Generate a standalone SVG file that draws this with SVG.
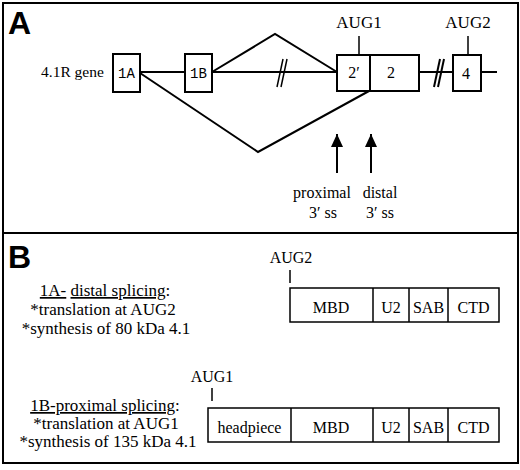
<svg xmlns="http://www.w3.org/2000/svg" width="520" height="470" viewBox="0 0 520 470">
<style>
.frame{fill:none;stroke:#000;stroke-width:2}
.box{fill:#fff;stroke:#000;stroke-width:2}
.pbox{fill:#fff;stroke:#000;stroke-width:1.5}
.ln{fill:none;stroke:#000;stroke-width:2}
.tk{fill:none;stroke:#000;stroke-width:1.5}
.t{font-family:"Liberation Serif","Times New Roman",serif;fill:#000}
.m{font-family:"Liberation Mono","Courier New",monospace;fill:#000}
.big{font-family:"Liberation Sans",Arial,sans-serif;font-weight:bold;font-size:32px;fill:#000}
</style>
<defs>
<marker id="ah" markerWidth="14" markerHeight="12" refX="13" refY="6" orient="auto" markerUnits="userSpaceOnUse" viewBox="0 0 14 12">
<path d="M0,0 L13,6 L0,12 Z" fill="#000"/>
</marker>
</defs>
<rect class="frame" x="3" y="3" width="515" height="230"/>
<rect class="frame" x="3" y="233" width="515" height="230"/>
<text class="big" x="8" y="34">A</text>
<text class="big" x="8" y="268">B</text>

<g id="connectors">
<line class="ln" x1="140" y1="72" x2="185" y2="72"/>
<line class="ln" x1="212" y1="72" x2="337" y2="72"/>
<polyline class="ln" points="212,72 275,34 337,72"/>
<polyline class="ln" points="140,73 258,152 369,91"/>
<line class="ln" x1="419" y1="72" x2="453" y2="72"/>
<line class="ln" x1="481" y1="72" x2="497" y2="72"/>
<line class="tk" x1="277" y1="87" x2="283" y2="59"/>
<line class="tk" x1="281" y1="87" x2="287" y2="59"/>
<line class="ln" x1="434" y1="87" x2="440" y2="59"/>
<line class="ln" x1="438" y1="87" x2="444" y2="59"/>
<line class="tk" x1="359" y1="36" x2="359" y2="55"/>
<line class="tk" x1="468" y1="36" x2="468" y2="55"/>
<line class="ln" x1="337" y1="173" x2="337" y2="134" marker-end="url(#ah)"/>
<line class="ln" x1="371" y1="173" x2="371" y2="134" marker-end="url(#ah)"/>
<line class="tk" x1="290" y1="270" x2="290" y2="283"/>
<line class="tk" x1="212" y1="388" x2="212" y2="401"/>
</g>

<text class="t" x="41" y="77" font-size="15.5">4.1R gene</text>

<g id="exon1A"><rect class="box" x="113" y="54" width="27" height="38"/><text class="m" x="126.5" y="78" font-size="14" text-anchor="middle">1A</text></g>
<g id="exon1B"><rect class="box" x="185" y="54" width="27" height="38"/><text class="m" x="198.5" y="78" font-size="14" text-anchor="middle">1B</text></g>
<g id="exon2p"><rect class="box" x="337" y="55" width="33" height="36"/><text class="t" x="354" y="78" font-size="16" text-anchor="middle">2′</text></g>
<g id="exon2"><rect class="box" x="370" y="55" width="49" height="36"/><text class="t" x="391" y="78" font-size="16" text-anchor="middle">2</text></g>
<g id="exon4"><rect class="box" x="453" y="55" width="28" height="36"/><text class="t" x="466" y="79" font-size="16" text-anchor="middle">4</text></g>

<text class="t" x="359" y="28" font-size="17" text-anchor="middle">AUG1</text>
<text class="t" x="468" y="28" font-size="17" text-anchor="middle">AUG2</text>

<text class="t" x="322" y="198" font-size="16" text-anchor="middle">proximal</text>
<text class="t" x="380" y="198" font-size="16" text-anchor="middle">distal</text>
<text class="t" x="323" y="218" font-size="16" text-anchor="middle">3′ ss</text>
<text class="t" x="380" y="218" font-size="16" text-anchor="middle">3′ ss</text>

<g id="text1A" class="t" font-size="17" text-anchor="middle">
<text x="105" y="296"><tspan text-decoration="underline">1A-</tspan> <tspan text-decoration="underline">distal splicing</tspan>:</text>
<text x="103" y="315">*translation at AUG2</text>
<text x="106" y="334">*synthesis of 80 kDa 4.1</text>
</g>
<g id="text1B" class="t" font-size="17" text-anchor="middle">
<text x="105" y="411"><tspan text-decoration="underline">1B-proximal splicing</tspan>:</text>
<text x="106" y="429">*translation at AUG1</text>
<text x="108" y="447">*synthesis of 135 kDa 4.1</text>
</g>

<text class="t" x="291" y="263" font-size="16" text-anchor="middle">AUG2</text>
<text class="t" x="212" y="382" font-size="16" text-anchor="middle">AUG1</text>

<g id="protein80" class="t" font-size="16" text-anchor="middle">
<rect class="pbox" x="290" y="288" width="209" height="34"/>
<line class="pbox" x1="373" y1="288" x2="373" y2="322"/>
<line class="pbox" x1="409" y1="288" x2="409" y2="322"/>
<line class="pbox" x1="448" y1="288" x2="448" y2="322"/>
<text x="331" y="313">MBD</text>
<text x="391" y="313">U2</text>
<text x="428.5" y="313">SAB</text>
<text x="473.5" y="313">CTD</text>
</g>
<g id="protein135" class="t" font-size="16" text-anchor="middle">
<rect class="pbox" x="208" y="408" width="291" height="34"/>
<line class="pbox" x1="291" y1="408" x2="291" y2="442"/>
<line class="pbox" x1="373" y1="408" x2="373" y2="442"/>
<line class="pbox" x1="409" y1="408" x2="409" y2="442"/>
<line class="pbox" x1="448" y1="408" x2="448" y2="442"/>
<text x="249.5" y="433">headpiece</text>
<text x="331" y="433">MBD</text>
<text x="391" y="433">U2</text>
<text x="428.5" y="433">SAB</text>
<text x="473.5" y="433">CTD</text>
</g>
</svg>
